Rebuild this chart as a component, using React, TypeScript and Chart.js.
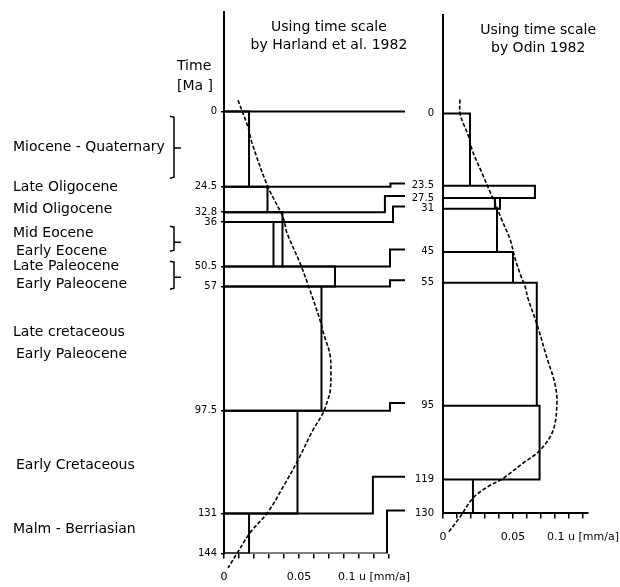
import React, { useEffect, useRef } from "react";
import { Chart, registerables } from "chart.js";

Chart.register(...registerables);
Chart.defaults.font.family = '"DejaVu Sans", sans-serif';
Chart.defaults.color = "#000";

// ---------- Left panel: time scale by Harland et al. 1982 ----------
const LEFT_BOUNDS = [0, 24.5, 32.8, 36, 50.5, 57, 97.5, 131, 144];
const LEFT_BOUND_LABELS = ["0", "24.5", "32.8", "36", "50.5", "57", "97.5", "131", "144"];
const LEFT_RATES = [0.0167, 0.029, 0.039, 0.039, 0.074, 0.065, 0.049, 0.0167];
const LEFT_EXTRA_FROM = [36];
const LEFT_EXTRA_TO = [50.5];
const LEFT_EXTRA_RATE = [0.033];
const LEFT_CURVE_T = [-3.7, 5.1, 10.3, 24.6, 34.4, 39.6, 49.4, 58.2, 67.9, 72.8, 79.3, 85.9, 91.4, 94.7, 98.3, 103.8, 113.6, 122.4, 130.5, 137.3, 143.5, 148.7];
const LEFT_CURVE_U = [0.0093, 0.016, 0.0187, 0.0293, 0.0393, 0.042, 0.0507, 0.0573, 0.064, 0.0667, 0.0707, 0.0713, 0.0707, 0.0687, 0.066, 0.0593, 0.0493, 0.0393, 0.0293, 0.0173, 0.0093, 0.0027];
const LEFT_X_TICKS = [0, 0.01, 0.02, 0.03, 0.04, 0.05, 0.06, 0.07, 0.08, 0.09, 0.1, 0.11];
const LEFT_X_LABELS = ["0", "", "", "", "", "0.05", "", "", "", "", "0.1 u [mm/a]", ""];
const LEFT_TITLE = ["Using time scale", "by Harland et al. 1982"];

// correlation lines between the two time scales
const LINK_FROM = [24.5, 32.8, 36, 50.5, 57, 97.5, 131, 144];
const LINK_TO = [23.5, 27.5, 31, 45, 55, 95, 119, 130];
const LINK_STEP = [0.111, 0.1073, 0.1127, 0.1107, 0.1107, 0.1107, 0.0993, 0.1087];
const LINK_END_U = 0.1207;

// epoch names
const EPOCH_LABELS = [
  "Miocene - Quaternary",
  "Late Oligocene",
  "Mid Oligocene",
  "Mid Eocene",
  "Early Eocene",
  "Late Paleocene",
  "Early Paleocene",
  "Late cretaceous",
  "Early Paleocene",
  "Early Cretaceous",
  "Malm - Berriasian",
];
const EPOCH_AT = [11.6, 24.8, 31.8, 39.6, 45.5, 50.4, 56.4, 72, 79, 115.2, 136.1];
const EPOCH_INDENT = [0, 0, 0, 0, 1, 0, 1, 0, 1, 1, 0];
const BRACKET_TOP = [1.9, 37.7, 49.1];
const BRACKET_MID = [11.9, 42.6, 54];
const BRACKET_BOT = [21.4, 45.2, 57.6];

// ---------- Right panel: time scale by Odin 1982 ----------
const RIGHT_BOUNDS = [0, 23.5, 27.5, 31, 45, 55, 95, 119, 130];
const RIGHT_BOUND_LABELS = ["0", "23.5", "27.5", "31", "45", "55", "95", "119", "130"];
const RIGHT_RATES = [0.0193, 0.0657, 0.0371, 0.0386, 0.05, 0.067, 0.069, 0.0214];
const RIGHT_EXTRA_FROM = [27.5];
const RIGHT_EXTRA_TO = [31];
const RIGHT_EXTRA_RATE = [0.0407];
const RIGHT_CURVE_T = [-4.5, 0, 3, 7, 12.6, 19.5, 25.5, 28.8, 34.6, 41, 47, 52, 56.2, 60.1, 68.5, 79.5, 87.9, 94.3, 103.1, 109.5, 113.7, 118.6, 121.5, 125, 131.2, 136.3];
const RIGHT_CURVE_U = [0.0121, 0.0121, 0.0143, 0.0179, 0.0214, 0.028, 0.0336, 0.037, 0.042, 0.048, 0.0514, 0.055, 0.0586, 0.0607, 0.0671, 0.0743, 0.08, 0.0814, 0.0786, 0.0693, 0.0571, 0.0429, 0.0314, 0.0214, 0.0121, 0.0036];
const RIGHT_X_TICKS = [0, 0.01, 0.02, 0.03, 0.04, 0.05, 0.06, 0.07, 0.08, 0.09, 0.1];
const RIGHT_X_LABELS = ["0", "", "", "", "", "0.05", "", "", "", "", "0.1 u [mm/a]"];
const RIGHT_TITLE = ["Using time scale", "by Odin 1982"];

const GAP = { x: null as any, y: null as any };

function rect(t0: number, t1: number, v: number) {
  return [
    { x: 0, y: t0 },
    { x: v, y: t0 },
    { x: v, y: t1 },
    { x: 0, y: t1 },
    GAP,
  ];
}

function barOutline(bounds: number[], rates: number[], ef: number[], et: number[], er: number[]) {
  const pts: any[] = [];
  rates.forEach((v, i) => pts.push(...rect(bounds[i], bounds[i + 1], v)));
  er.forEach((v, i) => pts.push(...rect(ef[i], et[i], v)));
  return pts;
}

function linkLines() {
  const pts: any[] = [{ x: 0, y: 0 }, { x: LINK_END_U, y: 0 }, GAP];
  LINK_FROM.forEach((f, i) => {
    pts.push(
      { x: 0, y: f },
      { x: LINK_STEP[i], y: f },
      { x: LINK_STEP[i], y: LINK_TO[i] },
      { x: LINK_END_U, y: LINK_TO[i] },
      GAP
    );
  });
  return pts;
}

function curve(ts: number[], us: number[]) {
  return ts.map((t, i) => ({ x: us[i], y: t }));
}

const lineDs = (data: any[], extra: any = {}) => ({
  data,
  showLine: true,
  pointRadius: 0,
  borderColor: "#000",
  borderWidth: 2,
  fill: false,
  tension: 0,
  spanGaps: false,
  ...extra,
});

const leftDecor = {
  id: "leftDecor",
  afterDraw(chart: any) {
    const { ctx, chartArea, scales } = chart;
    const y = scales.y;
    const x = scales.x;
    ctx.save();
    ctx.fillStyle = "#000";
    ctx.strokeStyle = "#000";
    ctx.font = '14px "DejaVu Sans"';
    ctx.textBaseline = "middle";
    ctx.textAlign = "center";
    const cx = x.getPixelForValue(0.07);
    LEFT_TITLE.forEach((s, i) => ctx.fillText(s, cx, chartArea.top + 15 + i * 18));
    ctx.textAlign = "left";
    ctx.fillText("Time", chartArea.left - 47, chartArea.top + 54);
    ctx.fillText("[Ma ]", chartArea.left - 47, chartArea.top + 74);
    EPOCH_LABELS.forEach((s, i) => {
      ctx.fillText(s, 13 + EPOCH_INDENT[i] * 3, y.getPixelForValue(EPOCH_AT[i]));
    });
    ctx.lineWidth = 1.5;
    const x0 = chartArea.left - 54;
    const x1 = chartArea.left - 50;
    const x2 = chartArea.left - 43;
    BRACKET_TOP.forEach((t, i) => {
      const yt = y.getPixelForValue(t);
      const ym = y.getPixelForValue(BRACKET_MID[i]);
      const yb = y.getPixelForValue(BRACKET_BOT[i]);
      ctx.beginPath();
      ctx.moveTo(x0, yt - 1);
      ctx.lineTo(x1, yt);
      ctx.lineTo(x1, yb);
      ctx.lineTo(x0, yb + 1);
      ctx.moveTo(x1, ym);
      ctx.lineTo(x2, ym);
      ctx.stroke();
    });
    ctx.restore();
  },
};

const rightDecor = {
  id: "rightDecor",
  afterDraw(chart: any) {
    const { ctx, chartArea, scales } = chart;
    ctx.save();
    ctx.fillStyle = "#000";
    ctx.font = '14px "DejaVu Sans"';
    ctx.textBaseline = "middle";
    ctx.textAlign = "center";
    const cx = scales.x.getPixelForValue(0.068);
    RIGHT_TITLE.forEach((s, i) => ctx.fillText(s, cx, chartArea.top + 15 + i * 18));
    ctx.restore();
  },
};

function makeConfig(p: {
  datasets: any[];
  xTicks: number[];
  xLabels: string[];
  xMax: number;
  yMin: number;
  yMax: number;
  yTicks: number[];
  yLabels: string[];
  yWidth: number;
  xHeight: number;
  padding: any;
  xBorder: boolean;
  yTickLen: number;
  yPad: number;
  plugin: any;
}): any {
  return {
    type: "scatter",
    data: { datasets: p.datasets },
    plugins: [p.plugin],
    options: {
      animation: false,
      responsive: false,
      layout: { padding: p.padding },
      plugins: { legend: { display: false }, tooltip: { enabled: false } },
      events: [],
      scales: {
        x: {
          type: "linear",
          min: 0,
          max: p.xMax,
          afterBuildTicks: (scale: any) => {
            scale.ticks = p.xTicks.map((v) => ({ value: v }));
          },
          afterFit: (scale: any) => {
            scale.height = p.xHeight;
          },
          ticks: {
            autoSkip: false,
            maxRotation: 0,
            padding: 12,
            font: { size: 11 },
            color: "#000",
            callback: (_v: any, i: number) => p.xLabels[i] ?? "",
          },
          grid: { drawOnChartArea: false, drawTicks: true, tickLength: 5, color: "#000", lineWidth: 1.5 },
          border: { display: p.xBorder, color: "#000", width: 2 },
        },
        y: {
          type: "linear",
          reverse: true,
          min: p.yMin,
          max: p.yMax,
          afterBuildTicks: (scale: any) => {
            scale.ticks = p.yTicks.map((v) => ({ value: v }));
          },
          afterFit: (scale: any) => {
            scale.width = p.yWidth;
          },
          ticks: {
            autoSkip: false,
            padding: p.yPad,
            font: { size: 10 },
            color: "#000",
            callback: (_v: any, i: number) => p.yLabels[i] ?? "",
          },
          grid: {
            drawOnChartArea: false,
            drawTicks: p.yTickLen > 0,
            tickLength: p.yTickLen,
            color: "#000",
            lineWidth: 1.5,
          },
          border: { display: true, color: "#000", width: 2 },
        },
      },
    },
  };
}

export default function App() {
  const leftRef = useRef<HTMLCanvasElement>(null);
  const rightRef = useRef<HTMLCanvasElement>(null);

  useEffect(() => {
    const left = new Chart(
      leftRef.current as HTMLCanvasElement,
      makeConfig({
        datasets: [
          lineDs(linkLines()),
          lineDs(barOutline(LEFT_BOUNDS, LEFT_RATES, LEFT_EXTRA_FROM, LEFT_EXTRA_TO, LEFT_EXTRA_RATE)),
          lineDs(curve(LEFT_CURVE_T, LEFT_CURVE_U), {
            borderDash: [4, 2],
            borderWidth: 1.6,
            tension: 0.35,
            clip: false,
          }),
        ],
        xTicks: LEFT_X_TICKS,
        xLabels: LEFT_X_LABELS,
        xMax: LINK_END_U,
        yMin: -32.4,
        yMax: 144,
        yTicks: LEFT_BOUNDS,
        yLabels: LEFT_BOUND_LABELS,
        yWidth: 224,
        xHeight: 33.5,
        padding: { top: 12, right: 15, bottom: 0, left: 0 },
        xBorder: false,
        yTickLen: 3,
        yPad: 4,
        plugin: leftDecor,
      })
    );
    const right = new Chart(
      rightRef.current as HTMLCanvasElement,
      makeConfig({
        datasets: [
          lineDs(barOutline(RIGHT_BOUNDS, RIGHT_RATES, RIGHT_EXTRA_FROM, RIGHT_EXTRA_TO, RIGHT_EXTRA_RATE)),
          lineDs(curve(RIGHT_CURVE_T, RIGHT_CURVE_U), {
            borderDash: [4, 2],
            borderWidth: 1.6,
            tension: 0.35,
            clip: false,
          }),
        ],
        xTicks: RIGHT_X_TICKS,
        xLabels: RIGHT_X_LABELS,
        xMax: 0.1036,
        yMin: -32,
        yMax: 130,
        yTicks: RIGHT_BOUNDS,
        yLabels: RIGHT_BOUND_LABELS,
        yWidth: 33,
        xHeight: 30,
        padding: { top: 12, right: 52, bottom: 43.6, left: 0 },
        xBorder: true,
        yTickLen: 0,
        yPad: 9,
        plugin: rightDecor,
      })
    );
    return () => {
      left.destroy();
      right.destroy();
    };
  }, []);

  return (
    <div
      style={{
        position: "absolute",
        left: 0,
        top: 0,
        width: 620,
        height: 587,
        overflow: "hidden",
        background: "#fff",
      }}
    >
      <canvas
        ref={leftRef}
        width={420}
        height={587}
        style={{ position: "absolute", left: 0, top: 0, width: 420, height: 587 }}
      />
      <canvas
        ref={rightRef}
        width={230}
        height={587}
        style={{ position: "absolute", left: 410, top: 0, width: 230, height: 587 }}
      />
    </div>
  );
}
